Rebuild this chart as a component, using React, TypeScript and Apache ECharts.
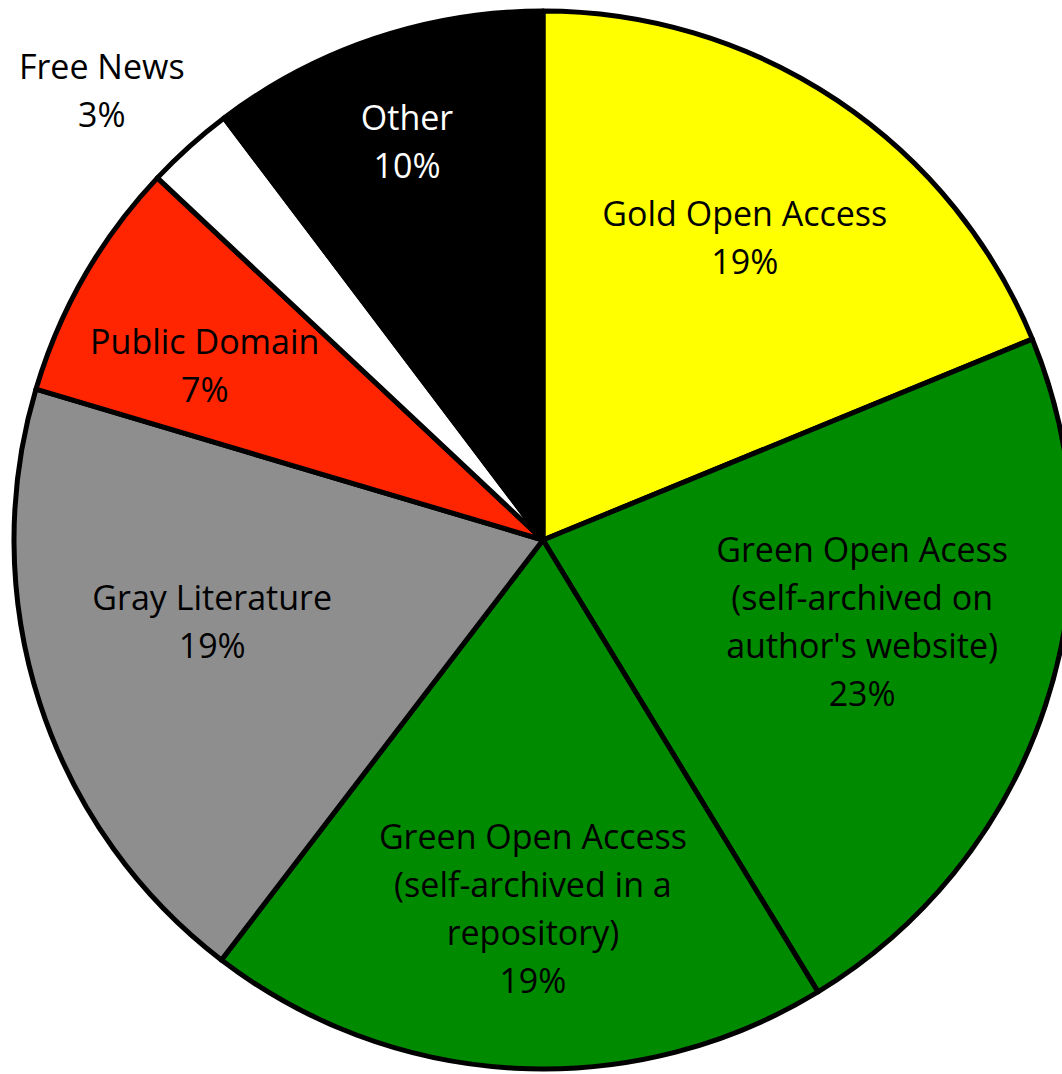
import React, { useEffect, useRef } from "react";
import * as echarts from "echarts";

const categories = [
  "Gold Open Access",
  "Green Open Acess\n(self-archived on\nauthor's website)",
  "Green Open Access\n(self-archived in a\nrepository)",
  "Gray Literature",
  "Public Domain",
  "Free News",
  "Other",
];
const values = [18.8, 22.5, 19.1, 19.2, 7.4, 2.7, 10.3];
const colors = ["#FFFF00", "#008A00", "#008A00", "#8E8E8E", "#FF2500", "#FFFFFF", "#000000"];
const labelColors = ["#000", "#000", "#000", "#000", "#000", "#000", "#fff"];
// label block centre offsets relative to pie centre, as fractions of radius
const labelOffsets: [number, number][] = [
  [0.38, -0.571],
  [0.601, 0.153],
  [-0.019, 0.693],
  [-0.623, 0.153],
  [-0.637, -0.33],
  [-0.831, -0.847],
  [-0.256, -0.751],
];

const CX = 543;
const CY = 540;
const R = 531;

export default function App() {
  const ref = useRef<HTMLDivElement>(null);
  useEffect(() => {
    document.body.style.margin = "0";
    const chart = echarts.init(ref.current!, null, { renderer: "svg" });
    chart.setOption({
      animation: false,
      backgroundColor: "#fff",
      series: [
        {
          type: "pie",
          center: [CX, CY],
          radius: R - 2,
          startAngle: 90,
          clockwise: true,
          percentPrecision: 0,
          label: {
            show: true,
            position: "inside",
            formatter: "{b}\n{d}%",
            fontFamily: "Open Sans",
            fontSize: 34,
            lineHeight: 48,
            align: "center",
          },
          labelLine: { show: false },
          labelLayout: (p: any) => {
            const o = labelOffsets[p.dataIndex];
            return {
              x: CX + o[0] * R,
              y: CY + o[1] * R,
              align: "center",
              verticalAlign: "middle",
            };
          },
          itemStyle: { borderColor: "#000", borderWidth: 5 },
          emphasis: { disabled: true },
          data: categories.map((c, i) => ({
            name: c,
            value: values[i],
            itemStyle: { color: colors[i] },
            label: { color: labelColors[i] },
          })),
        },
      ],
    });
    return () => chart.dispose();
  }, []);
  return <div ref={ref} style={{ width: 1062, height: 1074 }} />;
}
